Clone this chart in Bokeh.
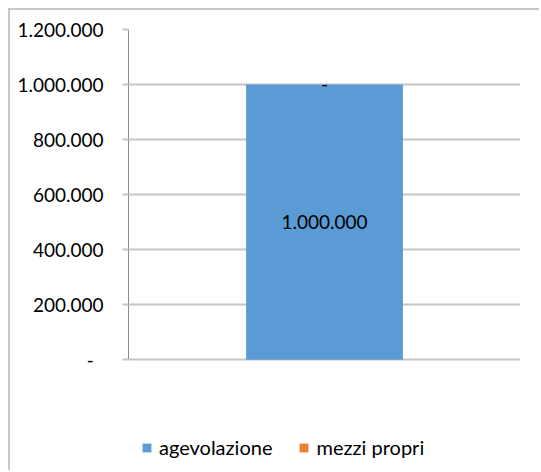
from bokeh.plotting import figure
from bokeh.models import (ColumnDataSource, FactorRange, Range1d, FixedTicker,
                          Legend, LegendItem, LabelSet, Spacer)
from bokeh.layouts import column, row
from bokeh.core.properties import value
from bokeh.embed import file_html
from bokeh.resources import INLINE

# ---- data ----
categories = ["progetto"]
series_names = ["agevolazione", "mezzi propri"]
agevolazione = [1000000]
mezzi_propri = [0]
tick_values = [0, 200000, 400000, 600000, 800000, 1000000, 1200000]
tick_labels = ["-", "200.000", "400.000", "600.000", "800.000", "1.000.000", "1.200.000"]

colors = ["#5B9BD5", "#ED7D31"]
FONT = "Lato"
Y_MAX = 1200000
Y_PAD_BELOW = 410000   # room under the value axis for the legend


def fmt(v):
    if v == 0:
        return "-"
    return f"{v:,.0f}".replace(",", ".")


source = ColumnDataSource(dict(cat=categories, agevolazione=agevolazione,
                               **{"mezzi propri": mezzi_propri}))

p = figure(width=531, height=462, x_range=FactorRange(factors=categories, range_padding=0),
           y_range=Range1d(-Y_PAD_BELOW, Y_MAX), output_backend="svg", toolbar_location=None,
           min_border_left=118, min_border_right=21, min_border_top=19, min_border_bottom=0)
p.styles = {"border-left": "2px solid #c8c8c8", "border-top": "2px solid #c8c8c8"}
p.outline_line_color = None
p.background_fill_color = "white"
p.border_fill_color = "white"

rs = p.vbar_stack(series_names, x="cat", width=0.4, color=colors, source=source,
                  line_color=None)

# axes
p.xaxis.visible = False
p.xgrid.visible = False
p.yaxis.ticker = FixedTicker(ticks=tick_values)
p.yaxis.bounds = (0, Y_MAX)
overrides = {}
for v, lab in zip(tick_values, tick_labels):
    overrides[v] = lab + ("\u00a0\u00a0" if lab == "-" else "")
p.yaxis.major_label_overrides = overrides
p.yaxis.axis_line_color = "#8c8c8c"
p.yaxis.axis_line_width = 1
p.yaxis.major_tick_line_color = "#c6c6c6"
p.yaxis.major_tick_line_width = 2
p.yaxis.major_tick_out = 6
p.yaxis.major_tick_in = 0
p.yaxis.minor_tick_line_color = None
p.yaxis.major_label_standoff = 19
p.yaxis.major_label_text_font = FONT
p.yaxis.major_label_text_font_size = "19px"
p.yaxis.major_label_text_color = "#000000"
p.ygrid.grid_line_color = "#c6c6c6"
p.ygrid.grid_line_width = 2

# data labels
lab_x, lab_y, lab_t, offs = [], [], [], []
base = [0] * len(categories)
for name, vals in zip(series_names, [agevolazione, mezzi_propri]):
    for i, c in enumerate(categories):
        lab_x.append(c)
        lab_y.append(base[i] + vals[i] / 2)
        lab_t.append(fmt(vals[i]))
        offs.append(0 if vals[i] else 1)
        base[i] += vals[i]
lsrc = ColumnDataSource(dict(x=lab_x, y=lab_y, t=lab_t, o=offs))
labels = LabelSet(x="x", y="y", text="t", source=lsrc, y_offset="o",
                  text_align="center", text_baseline="middle",
                  text_font=value(FONT), text_font_size="19px", text_color="#000000")
p.add_layout(labels)

# legend (under the value axis, inside the frame)
lg = Legend(items=[LegendItem(label=n, renderers=[r]) for n, r in zip(series_names, rs)],
            location=(13, 13), orientation="horizontal", padding=0, margin=0, spacing=26,
            glyph_width=11, glyph_height=11, label_height=11, label_standoff=7,
            label_text_font=FONT, label_text_font_size="20px",
            label_text_color="#000000", border_line_color=None,
            background_fill_alpha=0)
p.add_layout(lg, "center")

layout = column(Spacer(height=8), row(Spacer(width=8), p))
open("out.html", "w").write(file_html(layout, INLINE))
